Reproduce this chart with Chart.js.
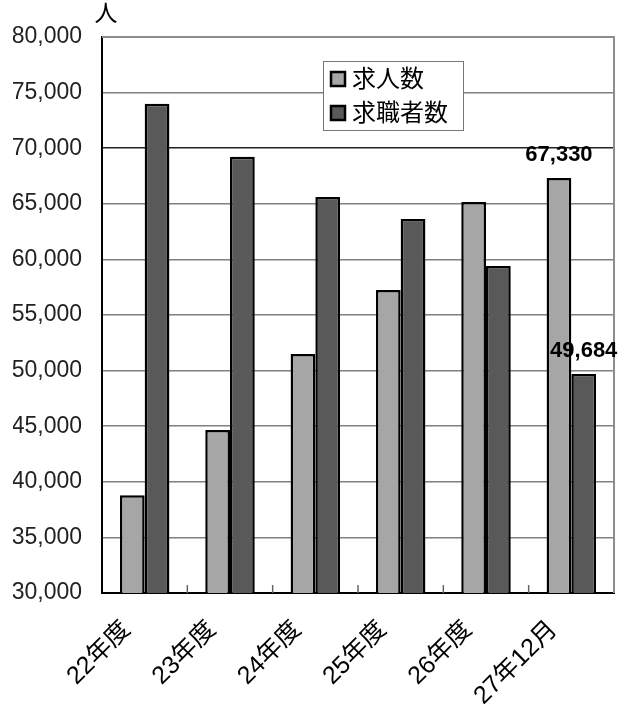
<!DOCTYPE html>
<html lang="ja">
<head>
<meta charset="utf-8">
<script src="https://cdn.jsdelivr.net/npm/chart.js@4.4.1/dist/chart.umd.min.js"></script>
<style>
  html, body { margin: 0; padding: 0; background: #fff; }
</style>
</head>
<body>
<canvas id="jobs-chart" width="629" height="720"></canvas>
<script>
// 求人数・求職者数の推移
const categories = ['22年度', '23年度', '24年度', '25年度', '26年度', '27年12月'];
const openings = [38800, 44660, 51500, 57250, 65170, 67330];  // 求人数
const seekers = [74000, 69240, 65610, 63630, 59400, 49684];   // 求職者数
const seriesNames = ['求人数', '求職者数'];
const yMin = 30000;
const yMax = 80000;
const yStep = 5000;
const labeledIndex = [5];  // 数値を表示する項目
const unitLabel = '人';

const FONT = "'Liberation Sans', Arial, 'Noto Sans CJK JP', sans-serif";
const LIGHT = '#a6a6a6';
const DARK = '#595959';

const fmt = v => v.toLocaleString('en-US');

// 枠線・目盛り・凡例・数値ラベル
const framePlugin = {
    id: 'frame',
    afterDatasetsDraw(chart) {
        const { ctx, chartArea: a, scales } = chart;
        const x = scales.x;
        ctx.save();

        // 上と右の枠
        ctx.strokeStyle = '#8c8c8c';
        ctx.lineWidth = 2;
        ctx.beginPath();
        ctx.moveTo(a.left, a.top);
        ctx.lineTo(a.right, a.top);
        ctx.lineTo(a.right, a.bottom);
        ctx.stroke();

        // 項目の区切り（内向きの目盛り）
        ctx.strokeStyle = '#666';
        ctx.lineWidth = 1.5;
        for (let i = 0; i < categories.length - 1; i++) {
            const px = (x.getPixelForValue(i) + x.getPixelForValue(i + 1)) / 2;
            ctx.beginPath();
            ctx.moveTo(px, a.bottom);
            ctx.lineTo(px, a.bottom - 8);
            ctx.stroke();
        }

        // 単位
        ctx.fillStyle = '#000';
        ctx.font = `23px ${FONT}`;
        ctx.textAlign = 'center';
        ctx.textBaseline = 'middle';
        ctx.fillText(unitLabel, a.left + 4, a.top - 22);

        // 凡例
        const lx = a.left + 221, ly = a.top + 24, lw = 140, lh = 69;
        ctx.fillStyle = '#fff';
        ctx.fillRect(lx, ly, lw, lh);
        ctx.strokeStyle = '#777';
        ctx.lineWidth = 1;
        ctx.strokeRect(lx + 0.5, ly + 0.5, lw, lh);
        ctx.font = `24px ${FONT}`;
        ctx.textAlign = 'left';
        chart.data.datasets.forEach((ds, k) => {
            const cy = ly + 18 + k * 34;
            ctx.fillStyle = ds.backgroundColor;
            ctx.fillRect(lx + 8, cy - 7, 14, 14);
            ctx.strokeStyle = '#000';
            ctx.lineWidth = 2.5;
            ctx.strokeRect(lx + 8, cy - 7, 14, 14);
            ctx.fillStyle = '#000';
            ctx.fillText(ds.label, lx + 29, cy + 1);
        });

        // 数値ラベル
        ctx.font = `bold 22px ${FONT}`;
        ctx.textAlign = 'center';
        ctx.textBaseline = 'bottom';
        ctx.fillStyle = '#000';
        chart.data.datasets.forEach((ds, k) => {
            const meta = chart.getDatasetMeta(k);
            labeledIndex.forEach(i => {
                const bar = meta.data[i];
                ctx.fillText(fmt(ds.data[i]), bar.x, bar.y - 12);
            });
        });

        ctx.restore();
    }
};

new Chart(document.getElementById('jobs-chart'), {
    type: 'bar',
    data: {
        labels: categories,
        datasets: [
            { label: seriesNames[0], data: openings, backgroundColor: LIGHT },
            { label: seriesNames[1], data: seekers, backgroundColor: DARK }
        ]
    },
    options: {
        responsive: false,
        animation: false,
        devicePixelRatio: 1,
        categoryPercentage: 0.58,
        barPercentage: 1.0,
        datasets: {
            bar: { borderColor: '#000', borderWidth: 2.5, borderSkipped: false }
        },
        layout: { padding: { left: 13, right: 15, top: 37, bottom: 0 } },
        scales: {
            x: {
                offset: true,
                grid: { display: false },
                border: { display: true, color: '#000', width: 2 },
                ticks: {
                    color: '#000',
                    font: { family: FONT, size: 25 },
                    minRotation: 45,
                    maxRotation: 45,
                    padding: 14,
                    labelOffset: -18
                },
                afterFit: s => {
                    s.height = 127;
                    s.paddingLeft = 0;
                    s.paddingRight = 0;
                }
            },
            y: {
                min: yMin,
                max: yMax,
                grid: {
                    drawTicks: false,
                    color: c => (c.tick && c.tick.value === 70000) ? '#222' : '#808080',
                    lineWidth: 1.5
                },
                border: { display: true, color: '#000', width: 2 },
                ticks: {
                    stepSize: yStep,
                    color: '#222',
                    padding: 20,
                    font: { family: FONT, size: 23 },
                    callback: v => fmt(v)
                },
                afterFit: s => { s.width = 89; }
            }
        },
        plugins: {
            legend: { display: false },
            tooltip: { enabled: false }
        }
    },
    plugins: [framePlugin]
});
</script>
</body>
</html>
